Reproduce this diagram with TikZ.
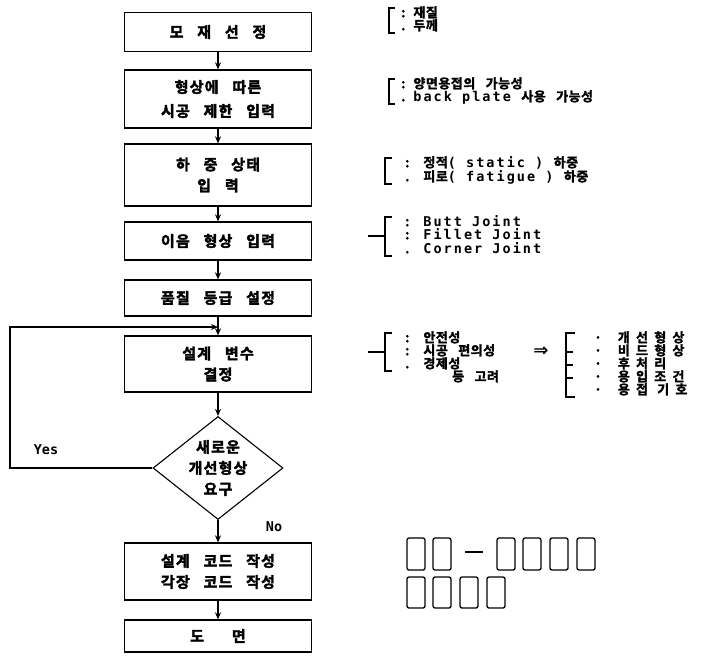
\documentclass[tikz,border=0pt]{standalone}
\usepackage{fontspec}
\usetikzlibrary{arrows.meta,shapes.geometric,positioning}
\newfontfamily\krfont{Noto Sans CJK KR Bold}[LetterSpace=8,WordSpace=3,FakeBold=2.5]
\newfontfamily\notefont{Noto Sans CJK KR Bold}[LetterSpace=4,WordSpace=3,FakeBold=2]
\newfontfamily\widefont{Noto Sans CJK KR Bold}[LetterSpace=48,WordSpace=1,FakeBold=2]
\newfontfamily\enfont{DejaVu Sans Mono Bold}[LetterSpace=15]
\newfontfamily\flagfont{DejaVu Sans Mono Bold}
\newfontfamily\symfont{DejaVu Sans Bold}
\newcommand{\en}[1]{{\enfont\fontsize{13.5}{13}\selectfont #1}}

\tikzset{
	stepBox/.style={rectangle, draw, line width=1.3pt, minimum width=187pt, align=center, inner sep=0pt, font=\fontsize{15}{21}\krfont},
	askDia/.style={diamond, draw, line width=1.1pt, minimum width=130pt, minimum height=103pt, aspect=1.26, align=center, inner sep=0pt, font=\fontsize{15}{21}\krfont},
	flow/.style={line width=1.2pt, -{Stealth[length=7pt,width=6pt]}},
	noteText/.style={anchor=west, inner sep=0pt, text height=9pt, text depth=2.5pt, font=\fontsize{13}{13}\notefont},
	itemText/.style={anchor=west, inner sep=0pt, text height=9pt, text depth=2.5pt, font=\fontsize{13}{13}\widefont},
	flagText/.style={inner sep=0pt, font=\fontsize{13.5}{14}\flagfont},
	brace/.style={line width=1.1pt},
	tofu/.style={line width=1.3pt, rounded corners=2pt}
}

\begin{document}
\begin{tikzpicture}[x=1pt, y=-1pt]
	\useasboundingbox (0,0) rectangle (705,656);

	\node[stepBox, minimum height=39pt](matBox) at (218,32){모 재 선 정};
	\node[stepBox, minimum height=58pt](shapeBox) at (218,99){형상에 따른\\[3pt]시공 제한 입력};
	\node[stepBox, minimum height=62pt](loadBox) at (218,175){하 중 상태\\입 력};
	\node[stepBox, minimum height=38pt](jointBox) at (218,241){이음 형상 입력};
	\node[stepBox, minimum height=36pt](gradeBox) at (218,298){품질 등급 설정};
	\node[stepBox, minimum height=56pt](varBox) at (218,364){설계 변수\\결정};
	\node[askDia](newDia) at (218,468){새로운\\개선형상\\요구};
	\node[stepBox, minimum height=57pt](codeBox) at (218,571.5){설계 코드 작성\\각장 코드 작성};
	\node[stepBox, minimum height=32pt](drawBox) at (218,636){도\hspace{28pt}면};

	\coordinate (loopCorner) at (10,327);
	\coordinate (loopIn) at (218,327);

	\draw[flow] (matBox) -- (shapeBox);
	\draw[flow] (shapeBox) -- (loadBox);
	\draw[flow] (loadBox) -- (jointBox);
	\draw[flow] (jointBox) -- (gradeBox);
	\draw[flow] (gradeBox) -- (varBox);
	\draw[flow] (varBox) -- (newDia);
	\draw[flow] (newDia) -- (codeBox);
	\draw[flow] (codeBox) -- (drawBox);
	\draw[flow] (newDia.west) -| (loopCorner) -- (loopIn);

	\node[flagText](yesLabel) at (46,450){Yes};
	\node[flagText](noLabel) at (274,527){No};

	\node[noteText](matNoteA) at (401,14){:\hspace{8pt}재질};
	\node[noteText](matNoteB) at (401,27){.\hspace{8pt}두께};
	\draw[brace] (395,8) -- (389,8) -- (389,33) -- (395,33);

	\node[noteText](shapeNoteA) at (401,85){:\hspace{8pt}양면용접의 가능성};
	\node[noteText](shapeNoteB) at (401,98){.\hspace{8pt}\en{back plate} 사용 가능성};
	\draw[brace] (395,79) -- (389,79) -- (389,104) -- (395,104);

	\node[noteText](loadNoteA) at (405,164){:\hspace{14pt}정적\en{( static )} 하중};
	\node[noteText](loadNoteB) at (405,178){.\hspace{14pt}피로\en{( fatigue )} 하중};
	\draw[brace] (392,158) -- (385,158) -- (385,184) -- (392,184);

	\node[noteText](jointNoteA) at (405,223){:\hspace{14pt}\en{Butt Joint}};
	\node[noteText](jointNoteB) at (405,236){:\hspace{14pt}\en{Fillet Joint}};
	\node[noteText](jointNoteC) at (405,250){.\hspace{14pt}\en{Corner Joint}};
	\draw[brace] (392,217) -- (385,217) -- (385,256) -- (392,256);
	\draw[brace] (368,236) -- (385,236);

	\node[noteText](varNoteA) at (405,339){:\hspace{14pt}안전성};
	\node[noteText](varNoteB) at (405,352){:\hspace{14pt}시공 편의성};
	\node[noteText](varNoteC) at (405,365){.\hspace{14pt}경제성};
	\node[noteText](varNoteD) at (452,378){등 고려};
	\draw[brace] (392,333) -- (385,333) -- (385,371) -- (392,371);
	\draw[brace] (368,352) -- (385,352);

	\node[inner sep=0pt, font=\fontsize{18}{18}\symfont](thenSign) at (541,352){⇒};

	\node[itemText](itemNoteA) at (594,339){·\hspace{16pt}개선형상};
	\node[itemText](itemNoteB) at (594,352){·\hspace{16pt}비드형상};
	\node[itemText](itemNoteC) at (594,365){·\hspace{16pt}후처리};
	\node[itemText](itemNoteD) at (594,378){·\hspace{16pt}용입조건};
	\node[itemText](itemNoteE) at (594,391){·\hspace{16pt}용접 기호};
	\draw[brace] (575,333) -- (566,333) -- (566,397) -- (575,397);
	\foreach \y in {352,365,378}
		\draw[brace] (566,\y) -- (573,\y);

	\foreach \x in {407,433,497,523,550,577}
		\draw[tofu] (\x,538) rectangle ++(18,32);
	\draw[tofu] (465,552) -- (483,552);
	\foreach \x in {407,433,460,487}
		\draw[tofu] (\x,577) rectangle ++(18,31);
\end{tikzpicture}
\end{document}
